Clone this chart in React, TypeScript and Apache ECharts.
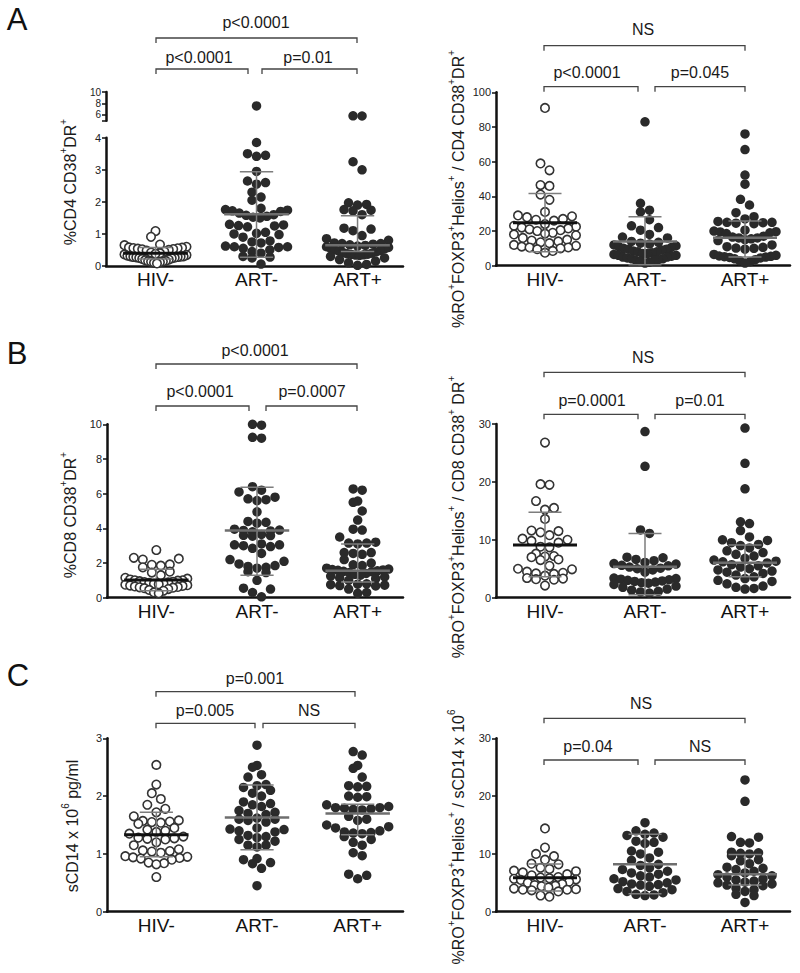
import React, { useEffect, useRef } from 'react';
import * as echarts from 'echarts';

const categories = ['HIV-', 'ART-', 'ART+'];

// ---- Panel A left: %CD4 CD38+DR+ ----
const cd4Hiv = [1.09, 0.91, 0.67, 0.65, 0.6, 0.58, 0.57, 0.56, 0.55, 0.54, 0.53, 0.52, 0.5, 0.48, 0.45, 0.42, 0.4, 0.38, 0.36, 0.34, 0.32, 0.3, 0.3, 0.29, 0.28, 0.28, 0.27, 0.26, 0.25, 0.24, 0.22, 0.2, 0.18, 0.16, 0.15, 0.14, 0.13, 0.12, 0.1, 0.08];
const cd4ArtNeg = [7.57, 3.85, 3.5, 3.45, 3.42, 2.95, 2.65, 2.6, 2.55, 2.3, 2.15, 2.05, 1.8, 1.76, 1.74, 1.72, 1.7, 1.65, 1.6, 1.58, 1.55, 1.52, 1.5, 1.3, 1.28, 1.26, 1.25, 1.22, 1.05, 1.02, 1.0, 0.98, 0.9, 0.78, 0.75, 0.72, 0.62, 0.6, 0.6, 0.58, 0.55, 0.5, 0.45, 0.4, 0.3, 0.28, 0.25, 0.06];
const cd4ArtPos = [5.85, 5.82, 3.25, 3.0, 1.97, 1.92, 1.9, 1.76, 1.74, 1.72, 1.6, 1.18, 1.15, 1.1, 0.95, 0.85, 0.8, 0.72, 0.7, 0.7, 0.68, 0.66, 0.64, 0.62, 0.6, 0.58, 0.55, 0.53, 0.5, 0.48, 0.46, 0.44, 0.42, 0.4, 0.38, 0.37, 0.36, 0.35, 0.34, 0.33, 0.3, 0.25, 0.2, 0.15, 0.1, 0.05, 0.02];
const cd4Summary = [[0.4, 0.58, 0.22], [1.61, 2.94, 0.27], [0.65, 1.57, 0.45]];

// ---- Panel A right: %RO+FOXP3+Helios+ / CD4 CD38+DR+ ----
const treg4Hiv = [91, 59, 55, 46.5, 46, 41, 38, 31, 29, 28.5, 28, 27, 26.5, 26, 24, 23, 22.5, 22, 21.5, 21, 20.5, 20, 19, 18.5, 18, 17.5, 16, 15, 14.5, 14, 13.5, 13, 12, 11.5, 11, 10.5, 10.5, 10, 9.5, 8.5, 7.5];
const treg4ArtNeg = [83, 36, 32, 31, 26.5, 23, 22, 20.5, 18, 16.5, 16, 14, 13.5, 13, 12.5, 12, 11.5, 11, 10.5, 10, 9.5, 9.5, 9, 8.5, 8, 8, 7.5, 7, 7, 6.5, 6, 6, 5.5, 5, 5, 4.5, 4, 4, 3.5, 3, 3, 2.5, 2, 1.5];
const treg4ArtPos = [76, 67, 52.3, 47, 38.3, 35, 30.6, 28.3, 27, 25.5, 25, 25, 24.8, 24.5, 24.2, 20.5, 20, 19.6, 19.5, 19, 18.5, 17, 16.5, 16, 16, 15.5, 15, 14.5, 12, 11, 10.6, 10.2, 10, 9.5, 6.5, 6, 5.6, 5.4, 5.2, 5, 4.8, 4.5, 4, 3.5, 2.8, 2.3, 1.5];
const treg4Summary = [[24.8, 41.7, 8], [13.9, 28.3, 0.5], [16.1, 25.8, 5]];

// ---- Panel B left: %CD8 CD38+DR+ ----
const cd8Hiv = [2.75, 2.3, 2.25, 2.2, 1.92, 1.9, 1.85, 1.75, 1.5, 1.45, 1.3, 1.15, 1.1, 1.05, 1.0, 1.0, 0.98, 0.95, 0.92, 0.9, 0.88, 0.85, 0.82, 0.8, 0.78, 0.75, 0.72, 0.7, 0.68, 0.65, 0.62, 0.6, 0.58, 0.55, 0.5, 0.45, 0.4, 0.3, 0.25];
const cd8ArtNeg = [10.0, 9.95, 9.25, 9.2, 6.4, 6.2, 6.1, 5.8, 5.7, 5.65, 5.6, 4.95, 4.4, 4.35, 4.3, 3.95, 3.9, 3.88, 3.85, 3.8, 3.65, 3.6, 3.58, 3.55, 3.1, 3.05, 3.05, 3.0, 2.95, 2.85, 2.55, 2.2, 2.1, 1.95, 1.85, 1.8, 1.75, 1.7, 1.5, 1.45, 1.0, 0.55, 0.5, 0.3, 0.05];
const cd8ArtPos = [6.27, 6.2, 5.57, 5.5, 5.0, 4.48, 3.95, 3.9, 3.5, 3.2, 3.15, 3.15, 3.1, 2.6, 2.6, 2.55, 2.5, 2.2, 2.0, 1.9, 1.85, 1.7, 1.65, 1.62, 1.6, 1.58, 1.55, 1.52, 1.5, 1.45, 1.4, 1.35, 1.3, 1.25, 1.2, 1.15, 1.1, 1.0, 0.8, 0.78, 0.75, 0.72, 0.7, 0.68, 0.5, 0.3, 0.25];
const cd8Summary = [[1.02, 1.64, 0.4], [3.87, 6.37, 1.29], [1.56, 3.1, 0.9]];

// ---- Panel B right: %RO+FOXP3+Helios+ / CD8 CD38+ DR+ ----
const treg8Hiv = [26.8, 19.6, 19.5, 16.7, 15.5, 15.2, 13.6, 11.6, 11.5, 11.3, 10.8, 10.2, 10.0, 9.8, 9.5, 8.8, 8.7, 7.6, 7.2, 7.1, 7.0, 6.6, 6.5, 5.5, 5.0, 4.9, 4.5, 4.3, 4.2, 4.1, 3.8, 3.4, 3.3, 3.2, 3.1, 2.1];
const treg8ArtNeg = [28.7, 22.7, 11.7, 11.1, 7.0, 6.9, 6.6, 6.4, 6.1, 5.9, 5.8, 5.6, 5.5, 5.3, 5.1, 5.0, 4.8, 4.4, 3.4, 3.3, 3.2, 3.1, 3.0, 2.9, 2.8, 2.7, 2.6, 2.5, 2.3, 2.0, 1.8, 1.5, 1.3, 1.1, 1.0, 0.8];
const treg8ArtPos = [29.3, 23.2, 18.8, 13.1, 12.8, 11.6, 10.5, 10.0, 9.9, 9.5, 9.2, 9.0, 8.6, 8.1, 7.8, 7.5, 7.2, 6.8, 6.5, 6.3, 6.2, 6.0, 5.7, 5.5, 5.3, 5.0, 4.8, 4.6, 4.4, 4.2, 3.9, 3.6, 3.3, 3.0, 2.8, 2.4, 2.0, 1.8, 1.6, 1.5];
const treg8Summary = [[9.1, 14.75, 3.6], [5.36, 11.1, 0.5], [6.05, 9.1, 3.6]];

// ---- Panel C left: sCD14 x 10^6 pg/ml ----
const scdHiv = [2.54, 2.2, 2.05, 1.95, 1.85, 1.78, 1.72, 1.65, 1.58, 1.57, 1.56, 1.55, 1.54, 1.52, 1.45, 1.42, 1.4, 1.38, 1.35, 1.3, 1.28, 1.27, 1.26, 1.25, 1.2, 1.15, 1.08, 1.06, 1.05, 1.04, 1.02, 0.96, 0.95, 0.94, 0.93, 0.92, 0.9, 0.85, 0.84, 0.82, 0.6];
const scdArtNeg = [2.88, 2.53, 2.5, 2.37, 2.33, 2.2, 2.18, 2.15, 2.1, 2.05, 2.0, 1.9, 1.87, 1.85, 1.82, 1.75, 1.72, 1.7, 1.68, 1.62, 1.6, 1.6, 1.58, 1.55, 1.45, 1.43, 1.42, 1.4, 1.38, 1.32, 1.3, 1.28, 1.25, 1.22, 1.15, 1.15, 1.12, 0.92, 0.9, 0.85, 0.83, 0.75, 0.45];
const scdArtPos = [2.77, 2.71, 2.53, 2.48, 2.33, 2.18, 2.17, 2.16, 2.0, 1.99, 1.98, 1.85, 1.82, 1.8, 1.8, 1.79, 1.78, 1.77, 1.76, 1.65, 1.6, 1.58, 1.5, 1.47, 1.45, 1.4, 1.38, 1.37, 1.36, 1.35, 1.3, 1.25, 1.2, 1.15, 1.02, 0.97, 0.65, 0.63, 0.57];
const scdSummary = [[1.33, 1.72, 0.95], [1.63, 2.19, 1.07], [1.7, 1.86, 1.33]];

// ---- Panel C right: %RO+FOXP3+Helios+ / sCD14 x 10^6 ----
const tregCHiv = [14.4, 11.1, 10.0, 9.6, 9.0, 8.3, 8.2, 7.6, 7.4, 7.1, 7.0, 6.8, 6.5, 6.3, 6.0, 5.9, 5.8, 5.7, 5.6, 5.5, 5.2, 5.0, 4.8, 4.6, 4.5, 4.4, 4.2, 4.0, 3.9, 3.8, 3.8, 3.7, 3.5, 2.8, 2.6];
const tregCArtNeg = [15.4, 14.0, 13.6, 13.4, 13.2, 12.9, 12.2, 12.0, 11.8, 10.5, 10.3, 10.0, 9.3, 8.9, 8.2, 8.0, 7.6, 7.3, 7.0, 6.7, 6.5, 6.2, 6.0, 5.7, 5.5, 5.2, 5.0, 4.8, 4.7, 4.6, 4.4, 4.0, 3.8, 3.5, 3.3, 3.0, 2.9, 2.8];
const tregCArtPos = [22.8, 19.1, 13.0, 12.9, 12.0, 11.9, 10.3, 10.2, 10.1, 10.0, 9.7, 9.0, 8.8, 8.3, 7.7, 7.5, 7.3, 7.0, 6.7, 6.4, 6.2, 6.0, 5.7, 5.5, 5.3, 5.1, 5.0, 4.8, 4.6, 4.5, 4.1, 3.8, 3.5, 3.0, 2.8, 1.6];
const tregCSummary = [[5.88, 8.25, 3.6], [8.2, 13.4, 3.1], [6.5, 9.9, 4.6]];

// ---- texts ----
const panelLetters = ['A', 'B', 'C'];
const yNames = [
  '%CD4 CD38⁺DR⁺',
  '%RO⁺FOXP3⁺Helios⁺ / CD4 CD38⁺DR⁺',
  '%CD8 CD38⁺DR⁺',
  '%RO⁺FOXP3⁺Helios⁺ / CD8 CD38⁺ DR⁺',
  'sCD14 x 10⁶ pg/ml',
  '%RO⁺FOXP3⁺Helios⁺ / sCD14 x 10⁶',
];
// [overall (HIV- vs ART+), HIV- vs ART-, ART- vs ART+]
const pLabels = [
  ['p<0.0001', 'p<0.0001', 'p=0.01'],
  ['NS', 'p<0.0001', 'p=0.045'],
  ['p<0.0001', 'p<0.0001', 'p=0.0007'],
  ['NS', 'p=0.0001', 'p=0.01'],
  ['p=0.001', 'p=0.005', 'NS'],
  ['NS', 'p=0.04', 'NS'],
];

const FONT = '"Liberation Sans", Arial, Helvetica, sans-serif';
const X_MIN = -0.49;
const X_MAX = 2.45;

type Br = { y: number; x1: number; x2: number; tx: number; ty: number };
type Layout = {
  grid: { left: number; top: number; width: number; height: number };
  yMin: number; yMax: number; yInterval: number;
  upper?: { top: number; height: number; min: number; max: number };
  nameX: number; nameY: number;
  top: Br; left: Br; right: Br;
};

const layouts: Layout[] = [
  {
    grid: { left: 106, top: 137.7, width: 297, height: 128.3 }, yMin: 0, yMax: 4, yInterval: 1,
    upper: { top: 92, height: 28.7, min: 5, max: 10 },
    nameX: 70, nameY: 182,
    top: { y: 38, x1: 156, x2: 357, tx: 256, ty: 22 },
    left: { y: 69, x1: 156, x2: 248, tx: 199, ty: 57 },
    right: { y: 69, x1: 262, x2: 357, tx: 308, ty: 57 },
  },
  {
    grid: { left: 496, top: 92.3, width: 294, height: 173.4 }, yMin: 0, yMax: 100, yInterval: 20,
    nameX: 458, nameY: 189,
    top: { y: 45.7, x1: 544, x2: 745, tx: 643, ty: 29 },
    left: { y: 86.7, x1: 544, x2: 638, tx: 587, ty: 72 },
    right: { y: 86.7, x1: 655, x2: 745, tx: 700, ty: 72 },
  },
  {
    grid: { left: 107, top: 424.3, width: 296, height: 173.4 }, yMin: 0, yMax: 10, yInterval: 2,
    nameX: 70, nameY: 515,
    top: { y: 364, x1: 156, x2: 357, tx: 255, ty: 350 },
    left: { y: 406, x1: 156, x2: 249, tx: 200, ty: 391 },
    right: { y: 406, x1: 266, x2: 357, tx: 312, ty: 391 },
  },
  {
    grid: { left: 496, top: 424, width: 294, height: 173.7 }, yMin: 0, yMax: 30, yInterval: 10,
    nameX: 458, nameY: 517,
    top: { y: 372.3, x1: 544, x2: 745, tx: 643, ty: 357.5 },
    left: { y: 414.3, x1: 544, x2: 638, tx: 592, ty: 400 },
    right: { y: 414.3, x1: 655, x2: 745, tx: 700, ty: 400 },
  },
  {
    grid: { left: 107, top: 738.3, width: 296, height: 173.4 }, yMin: 0, yMax: 3, yInterval: 1,
    nameX: 72, nameY: 826,
    top: { y: 691.7, x1: 156, x2: 355, tx: 255, ty: 678 },
    left: { y: 723.3, x1: 156, x2: 255, tx: 205, ty: 710 },
    right: { y: 723.3, x1: 263, x2: 355, tx: 309, ty: 710 },
  },
  {
    grid: { left: 496, top: 738.3, width: 294, height: 173.4 }, yMin: 0, yMax: 30, yInterval: 10,
    nameX: 458, nameY: 837,
    top: { y: 718.3, x1: 544, x2: 745, tx: 641, ty: 703 },
    left: { y: 760, x1: 544, x2: 638, tx: 588, ty: 746 },
    right: { y: 760, x1: 655, x2: 745, tx: 700, ty: 746 },
  },
];

const letterPos = [[17, 19], [17, 353], [18, 675]];

const panelGroups = [
  [cd4Hiv, cd4ArtNeg, cd4ArtPos],
  [treg4Hiv, treg4ArtNeg, treg4ArtPos],
  [cd8Hiv, cd8ArtNeg, cd8ArtPos],
  [treg8Hiv, treg8ArtNeg, treg8ArtPos],
  [scdHiv, scdArtNeg, scdArtPos],
  [tregCHiv, tregCArtNeg, tregCArtPos],
];
const panelSummaries = [cd4Summary, treg4Summary, cd8Summary, treg8Summary, scdSummary, tregCSummary];

// Prism-like row layout: values close in pixel space share a row, spread symmetrically,
// lowest value at the centre.
function swarmOffsets(values: number[], toPx: (v: number) => number, D: number, maxHalf: number) {
  const idx = values.map((_, i) => i).sort((a, b) => values[a] - values[b]);
  const out = new Array(values.length).fill(0);
  let i = 0;
  while (i < idx.length) {
    const start = toPx(values[idx[i]]);
    let j = i;
    while (j < idx.length && toPx(values[idx[j]]) - start < D) j++;
    const row = idx.slice(i, j);
    const n = row.length;
    const s = n > 1 ? Math.min(D, (2 * maxHalf) / (n - 1)) : 0;
    const slots: number[] = [];
    for (let k = 0; k < n; k++) slots.push((k - (n - 1) / 2) * s);
    slots.sort((a, b) => Math.abs(a) - Math.abs(b) || b - a);
    row.forEach((id, k) => { out[id] = slots[k]; });
    i = j;
  }
  return out;
}

// superscript characters -> rich text tokens
function toRich(s: string) {
  return s.replace(/⁺/g, '{s|+}').replace(/⁶/g, '{s|6}');
}

function buildOption() {
  const grid: any[] = [];
  const xAxis: any[] = [];
  const yAxis: any[] = [];
  const series: any[] = [];
  const graphic: any[] = [];

  const axisLineStyle = { color: '#111', width: 2.5 };

  const addAxes = (gi: number, g: any, yMin: number, yMax: number, yInterval: number | null, showX: boolean, custom?: { ticks: number[]; labels: number[] }) => {
    grid.push({ left: g.left, top: g.top, width: g.width, height: g.height, containLabel: false });
    xAxis.push({
      type: 'value', gridIndex: gi, min: X_MIN, max: X_MAX, show: showX,
      axisLine: { show: true, onZero: false, lineStyle: axisLineStyle },
      axisTick: { show: false }, splitLine: { show: false },
      axisLabel: {
        customValues: [0, 1, 2],
        formatter: (v: number) => categories[Math.round(v)] ?? '',
        fontSize: 19, color: '#111', margin: 4, fontFamily: FONT,
      },
    });
    const ya: any = {
      type: 'value', gridIndex: gi, min: yMin, max: yMax,
      axisLine: { show: true, onZero: false, lineStyle: axisLineStyle },
      axisTick: { show: true, length: 4, lineStyle: { color: '#111', width: 1.5 } },
      axisLabel: { fontSize: custom ? 10 : 11, color: '#222222', margin: 5, fontFamily: FONT },
      splitLine: { show: false },
    };
    if (yInterval) ya.interval = yInterval;
    if (custom) {
      ya.axisTick.customValues = custom.ticks;
      ya.axisLabel.customValues = custom.labels;
    }
    yAxis.push(ya);
  };

  let gi = 0;
  layouts.forEach((L, p) => {
    const lowerIdx = gi;
    addAxes(gi, L.grid, L.yMin, L.yMax, L.yInterval, true);
    gi++;
    let upperIdx = -1;
    if (L.upper) {
      upperIdx = gi;
      addAxes(gi, { left: L.grid.left, top: L.upper.top, width: L.grid.width, height: L.upper.height }, L.upper.min, L.upper.max, null, false, { ticks: [5, 6, 8, 10], labels: [6, 8, 10] });
      gi++;
    }
    const pxY = L.grid.height / (L.yMax - L.yMin);
    const pxX = L.grid.width / (X_MAX - X_MIN);
    const U = L.upper;
    const toPx = (v: number) => {
      if (U && v > L.yMax + 0.5) {
        const base = L.grid.top + L.grid.height - (U.top + U.height);
        return base + (v - U.min) * (U.height / (U.max - U.min));
      }
      return (v - L.yMin) * pxY;
    };

    panelGroups[p].forEach((vals, c) => {
      const open = c === 0;
      const offs = swarmOffsets(vals, toPx, 9, 31);
      const lower: number[][] = [];
      const upper: number[][] = [];
      vals.forEach((v, k) => {
        const pt = [c + offs[k] / pxX, v];
        if (U && v > L.yMax + 0.5) upper.push(pt); else lower.push(pt);
      });
      const style = open
        ? { color: '#ffffff', borderColor: '#333333', borderWidth: 1.6, opacity: 1 }
        : { color: '#2a2a2a', borderWidth: 0, opacity: 1 };
      const base = {
        type: 'scatter', symbol: 'circle', symbolSize: open ? 8.5 : 9.5,
        itemStyle: style, z: 2, silent: true,
      };
      series.push({ ...base, xAxisIndex: lowerIdx, yAxisIndex: lowerIdx, data: lower });
      if (upper.length) series.push({ ...base, xAxisIndex: upperIdx, yAxisIndex: upperIdx, data: upper });
    });

    series.push({
      type: 'custom', xAxisIndex: lowerIdx, yAxisIndex: lowerIdx, z: 5, silent: true,
      data: panelSummaries[p].map((s, c) => [c, s[0], s[1], s[2], c === 0 ? 1 : 0]),
      renderItem: (_params: any, api: any) => {
        const cx = api.value(0), m = api.value(1), up = api.value(2), lo = api.value(3), open = api.value(4);
        const P = (x: number, y: number) => api.coord([x, y]);
        const grey = '#7d7d7d';
        const lineEl = (a: number[], b: number[], stroke: string, w: number) => ({
          type: 'line', shape: { x1: a[0], y1: a[1], x2: b[0], y2: b[1] }, style: { stroke, lineWidth: w },
        });
        return {
          type: 'group',
          children: [
            lineEl(P(cx, lo), P(cx, up), grey, 1.5),
            lineEl(P(cx - 0.165, up), P(cx + 0.165, up), grey, 1.5),
            lineEl(P(cx - 0.165, lo), P(cx + 0.165, lo), grey, 1.5),
            lineEl(P(cx - 0.32, m), P(cx + 0.32, m), open ? '#111' : '#6e6e6e', open ? 3 : 2.5),
          ],
        };
      },
    });

    // brackets
    [L.top, L.left, L.right].forEach((b, k) => {
      graphic.push({
        type: 'polyline', silent: true,
        shape: { points: [[b.x1, b.y + 5], [b.x1, b.y], [b.x2, b.y], [b.x2, b.y + 5]] },
        style: { stroke: '#444', lineWidth: 1.3, fill: 'none' },
      });
      graphic.push({
        type: 'text', x: b.tx, y: b.ty, silent: true,
        style: { text: pLabels[p][k], fontSize: 16, fontFamily: FONT, fill: '#1a1a1a', align: 'center', verticalAlign: 'middle' },
      });
    });
    // y name
    graphic.push({
      type: 'text', x: L.nameX, y: L.nameY, rotation: Math.PI / 2, silent: true,
      style: {
        text: toRich(yNames[p]), fontSize: 16, lineHeight: 24, fontFamily: FONT, fill: '#1a1a1a',
        align: 'center', verticalAlign: 'middle',
        rich: { s: { fontSize: 10, lineHeight: 10, verticalAlign: 'top', fontFamily: FONT, fill: '#1a1a1a' } },
      },
    });
  });

  panelLetters.forEach((t, i) => {
    graphic.push({
      type: 'text', x: letterPos[i][0], y: letterPos[i][1], silent: true,
      style: { text: t, fontSize: 31, fontFamily: FONT, fill: '#111', align: 'center', verticalAlign: 'middle' },
    });
  });

  return {
    animation: false,
    backgroundColor: '#ffffff',
    textStyle: { fontFamily: FONT },
    grid, xAxis, yAxis, series, graphic,
  };
}

export default function App() {
  const ref = useRef<HTMLDivElement>(null);
  useEffect(() => {
    if (!ref.current) return;
    const chart = echarts.init(ref.current, undefined, { renderer: 'svg' });
    chart.setOption(buildOption() as any);
    return () => chart.dispose();
  }, []);
  return <div ref={ref} style={{ position: 'absolute', left: 0, top: 0, width: 800, height: 973, background: '#fff' }} />;
}
